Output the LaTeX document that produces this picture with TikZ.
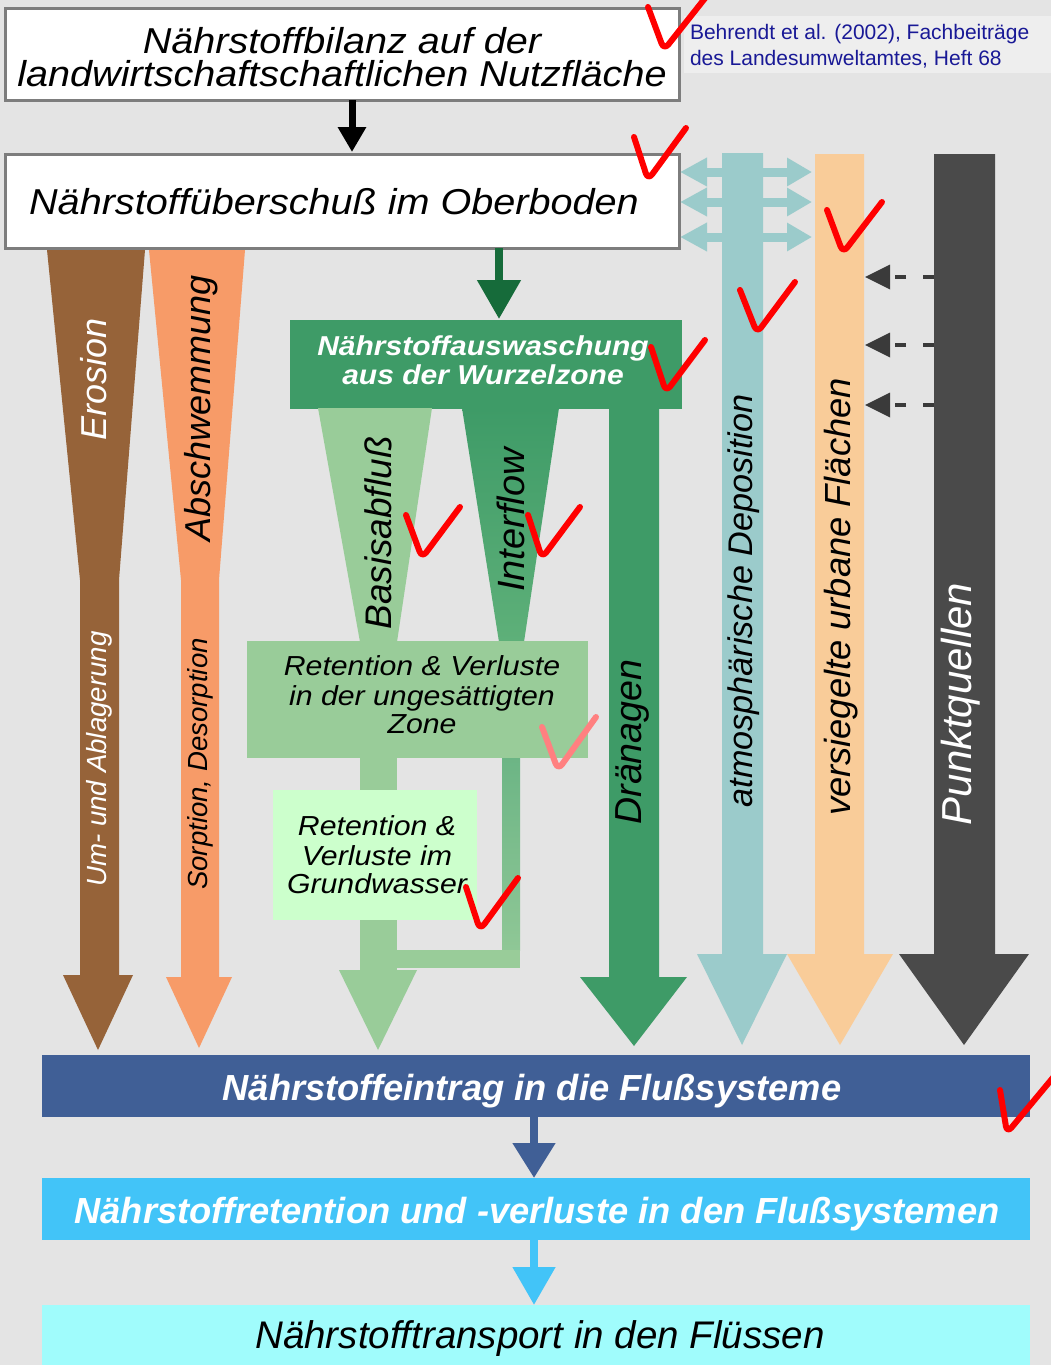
\documentclass[tikz,border=0pt]{standalone}
\usepackage{fontspec}
\setmainfont{Liberation Sans}
\newfontfamily\wf{Liberation Sans}[FakeStretch=1.1]
\usetikzlibrary{arrows.meta}
\definecolor{bg}{RGB}{228,228,228}
\definecolor{boxgray}{RGB}{125,125,125}
\definecolor{cbrown}{RGB}{150,99,57}
\definecolor{corange}{RGB}{247,155,104}
\definecolor{mgreen}{RGB}{62,155,103}
\definecolor{dgreen}{RGB}{22,107,58}
\definecolor{lgreen}{RGB}{153,204,153}
\definecolor{vlgreen}{RGB}{204,255,204}
\definecolor{ifA}{RGB}{62,155,103}
\definecolor{ifB}{RGB}{94,176,121}
\definecolor{icA}{RGB}{108,181,133}
\definecolor{icB}{RGB}{143,199,150}
\definecolor{cteal}{RGB}{155,203,203}
\definecolor{cpeach}{RGB}{249,204,153}
\definecolor{cdgray}{RGB}{74,74,74}
\definecolor{dashgray}{RGB}{58,58,58}
\definecolor{nblue}{RGB}{64,95,150}
\definecolor{lblue}{RGB}{66,196,248}
\definecolor{ccyan}{RGB}{160,252,252}
\definecolor{citebg}{RGB}{238,238,238}
\definecolor{citeblue}{RGB}{25,25,150}
\definecolor{chkred}{RGB}{255,0,0}
\definecolor{chkpink}{RGB}{255,128,128}
\newcommand\myfs[1]{\fontsize{#1}{#1}\selectfont}
\begin{document}
\begin{tikzpicture}[x=1pt,y=-1pt,
  wbox/.style={draw=boxgray, line width=3pt, fill=white, inner sep=0pt, outer sep=0pt},
  fbox/.style={inner sep=0pt, outer sep=0pt},
  txt/.style={inner sep=0pt, outer sep=0pt, anchor=base},
  rot/.style={inner sep=0pt, outer sep=0pt, rotate=90},
  chk/.style={draw=chkred, line width=6pt, line cap=round, line join=round, rounded corners=7pt},
  blk/.style={line width=#1, -{Triangle[width=0pt 0 0, length=0pt 0 0]}},
]
\useasboundingbox (0,0) rectangle (1051,1365);
\fill[bg] (0,0) rectangle (1051,1365);

% citation
\fill[citebg] (684,16) rectangle (1051,73);
\node[txt, anchor=base west, text=citeblue, font=\myfs{21}] (cite1) at (690,39) {Behrendt et al. (2002), Fachbeiträge};
\node[txt, anchor=base west, text=citeblue, font=\myfs{21}] (cite2) at (690,65) {des Landesumweltamtes, Heft 68};

% top boxes
\node[wbox, minimum width=674pt, minimum height=92pt] (b1) at (342,54) {};
\node[txt, font=\wf\itshape\myfs{36}] (t1a) at (342,53) {Nährstoffbilanz auf der};
\node[txt, font=\wf\itshape\myfs{36}] (t1b) at (342,86) {landwirtschaftschaftlichen Nutzfläche};
\node[wbox, minimum width=674pt, minimum height=94pt] (b2) at (342,201) {};
\node[txt, font=\wf\itshape\myfs{36}] (t2) at (334,214) {Nährstoffüberschuß im Oberboden};

\draw[line width=7pt, -{Triangle[width=27pt, length=25pt]}] ([xshift=10pt]b1.south) -- ([xshift=10pt,yshift=2pt]b2.north);

% Erosion
\fill[cbrown] (47,250) -- (145,250) -- (119,580) -- (119,975) -- (133,975) -- (98,1050) -- (63,975) -- (80,975) -- (80,580) -- cycle;
% Abschwemmung
\fill[corange] (149,250) -- (245,250) -- (219,580) -- (219,977) -- (232,977) -- (199,1048) -- (166,977) -- (181,977) -- (181,580) -- cycle;

% Auswaschung box and arrow
\node[fbox, fill=mgreen, minimum width=392pt, minimum height=89pt] (wz) at (486,364) {};
\coordinate (g0) at (499,248);
\coordinate (g1) at (499,319);
\draw[dgreen, line width=8pt, -{Triangle[width=42pt, length=39pt]}] (g0) -- (g1);
\node[txt, text=white, font=\wf\bfseries\itshape\myfs{27.3}] (wzt1) at (483,355) {Nährstoffauswaschung};
\node[txt, text=white, font=\wf\bfseries\itshape\myfs{27.3}] (wzt2) at (483,384) {aus der Wurzelzone};

% Dränagen
\fill[mgreen] (609,405) -- (659,405) -- (659,977) -- (687,977) -- (634,1046) -- (580,977) -- (609,977) -- cycle;

% Basisabfluss
\fill[lgreen] (318,408) -- (432,408) -- (397,642) -- (360,642) -- cycle;
% Interflow
\shade[top color=ifA, bottom color=ifB] (462,408) -- (559,408) -- (524,642) -- (499,642) -- cycle;

% lower light green main column
\fill[lgreen] (360,757) rectangle (397,971);
\fill[lgreen] (339,970) -- (417,970) -- (378,1050) -- cycle;
% interflow continuation
\shade[top color=icA, bottom color=icB] (502,757) rectangle (520,950);
\fill[lgreen] (397,950) rectangle (520,968);

% Retention boxes
\node[fbox, fill=lgreen, minimum width=341pt, minimum height=117pt] (ret1) at (417.5,699.5) {};
\node[txt, font=\wf\itshape\myfs{27.5}] (r1a) at (422,675) {Retention \& Verluste};
\node[txt, font=\wf\itshape\myfs{27.5}] (r1b) at (422,705) {in der ungesättigten};
\node[txt, font=\wf\itshape\myfs{27.5}] (r1c) at (422,733) {Zone};
\node[fbox, fill=vlgreen, minimum width=204pt, minimum height=130pt] (ret2) at (375,855) {};
\node[txt, font=\wf\itshape\myfs{27.5}] (r2a) at (377,835) {Retention \&};
\node[txt, font=\wf\itshape\myfs{27.5}] (r2b) at (377,865) {Verluste im};
\node[txt, font=\wf\itshape\myfs{27.5}] (r2c) at (377,893) {Grundwasser};

% teal double arrows
\foreach \yy in {172,202,237}{
  \draw[cteal, line width=9pt, -{Triangle[width=27pt, length=27pt]}] (742,\yy) -- (680,\yy);
  \draw[cteal, line width=9pt, -{Triangle[width=27pt, length=25pt]}] (742,\yy) -- (812,\yy);
}
% atmospheric deposition
\fill[cteal] (722,153) -- (763,153) -- (763,954) -- (787,954) -- (742,1045) -- (697,954) -- (722,954) -- cycle;
% urban
\fill[cpeach] (815,154) -- (864,154) -- (864,954) -- (893,954) -- (840,1045) -- (787,954) -- (815,954) -- cycle;
% point sources
\fill[cdgray] (934,154) -- (995,154) -- (995,954) -- (1029,954) -- (964,1045) -- (899,954) -- (934,954) -- cycle;

% dashed arrows
\foreach \yy in {277,345,405}{
  \draw[dashgray, line width=4pt, dash pattern=on 11pt off 17pt] (934,\yy) -- (890,\yy);
  \fill[dashgray] (865,\yy) -- (890,\yy-12.5) -- (890,\yy+12.5) -- cycle;
}

% rotated labels
\node[rot, text=white, font=\itshape\myfs{36}] (lero) at (94,379) {Erosion};
\node[rot, font=\itshape\myfs{36}] (labs) at (201,408) {Abschwemmung};
\node[rot, text=white, font=\itshape\myfs{27.7}] (lum) at (99.5,759) {Um- und Ablagerung};
\node[rot, font=\itshape\myfs{27.6}] (lsorp) at (200,764) {Sorption, Desorption};
\node[rot, font=\itshape\myfs{37}] (lbas) at (378,533) {Basisabfluß};
\node[rot, font=\itshape\myfs{38}] (lint) at (511,520) {Interflow};
\node[rot, font=\itshape\myfs{37.6}] (ldr) at (632,742) {Dränagen};
\node[rot, font=\itshape\myfs{34.2}] (latm) at (744,601) {atmosphärische Deposition};
\node[rot, font=\itshape\myfs{36.3}] (lurb) at (841,597) {versiegelte urbane Flächen};
\node[rot, text=white, font=\itshape\myfs{41.9}] (lpkt) at (961,704) {Punktquellen};

% bottom boxes
\node[fbox, fill=nblue, minimum width=988pt, minimum height=62pt] (ein) at (536,1086) {};
\node[txt, text=white, font=\bfseries\itshape\myfs{36.3}] (eint) at (532,1100) {Nährstoffeintrag in die Flußsysteme};
\node[fbox, fill=lblue, minimum width=988pt, minimum height=62pt] (ret) at (536,1209) {};
\node[txt, text=white, font=\bfseries\itshape\myfs{36.3}] (rett) at (537,1223) {Nährstoffretention und -verluste in den Flußsystemen};
\node[fbox, fill=ccyan, minimum width=988pt, minimum height=70pt] (trn) at (536,1340) {};
\node[txt, font=\itshape\myfs{38.5}] (trnt) at (540,1348) {Nährstofftransport in den Flüssen};

\draw[nblue, line width=8pt, -{Triangle[width=41pt, length=35pt]}] ([xshift=-2pt]ein.south) -- ([xshift=-2pt]ret.north);
\draw[lblue, line width=8pt, -{Triangle[width=41pt, length=38pt]}] ([xshift=-2pt]ret.south) -- ([xshift=-2pt]trn.north);

% check marks
\draw[chk] (648,7) -- (664,50) -- (706,-3);
\draw[chk] (634,137) -- (648,180) -- (686,128);
\draw[chk] (827,210) -- (843,253) -- (882,202);
\draw[chk] (740,290) -- (757,333) -- (795,282);
\draw[chk] (651,347) -- (666,392) -- (705,340);
\draw[chk] (406,515) -- (422,558) -- (460,507);
\draw[chk] (528,515) -- (542,558) -- (580,507);
\draw[chk, draw=chkpink] (542,727) -- (558,770) -- (596,717);
\draw[chk] (466,887) -- (480,930) -- (518,878);
\draw[chk] (1000,1090) -- (1007,1133) -- (1056,1074);
\end{tikzpicture}
\end{document}
